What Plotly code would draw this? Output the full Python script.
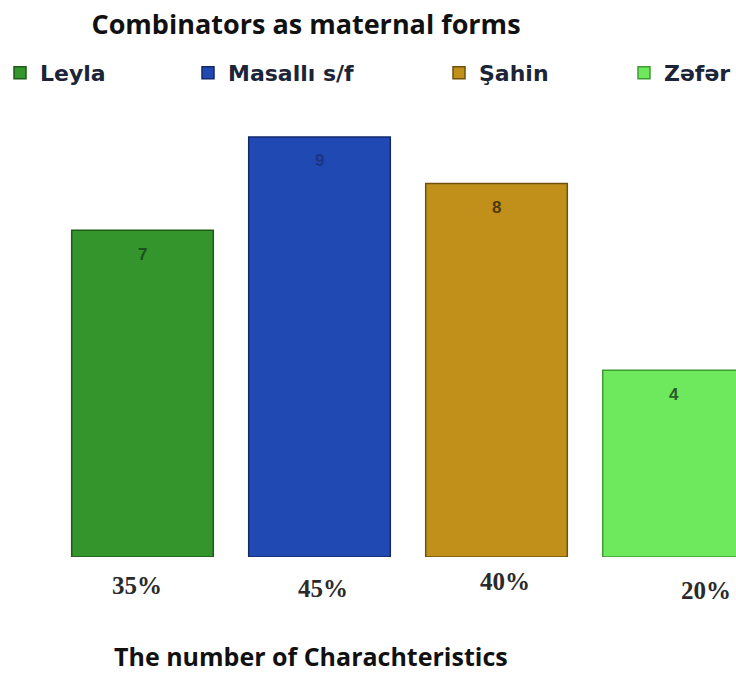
import plotly.graph_objects as go

# Data
varieties = ["Leyla", "Masallı s/f", "Şahin", "Zəfər"]
counts = [7, 9, 8, 4]
shares = ["35%", "45%", "40%", "20%"]

# Styling
fill_colors = ["#33952c", "#2149b4", "#c0901a", "#6ee85c"]
edge_colors = ["#1f5a1a", "#13286a", "#6e520c", "#3f9a35"]
value_colors = ["#1e4f1c", "#1b3580", "#4e3a0c", "#2c5a28"]
share_xshift = [-5, 3, 8, 32]
share_yshift = [-28, -31, -24, -33]
legend_x_px = [-1, 188, 439, 631]

fig = go.Figure()
for i, (name, val) in enumerate(zip(varieties, counts)):
    legend_id = "legend" if i == 0 else f"legend{i + 1}"
    fig.add_trace(go.Bar(
        x=[i], y=[val], name=name, width=0.8,
        marker=dict(color=fill_colors[i], line=dict(color=edge_colors[i], width=1.5)),
        legend=legend_id, showlegend=True, hoverinfo="skip",
    ))
    # value label inside the top of the bar
    fig.add_annotation(x=i, y=val, yref="y", xref="x", text=str(val),
                       showarrow=False, yshift=-24,
                       font=dict(family="Liberation Sans", size=17, color=value_colors[i],
                                 weight="bold"))
    # share label under the bar
    fig.add_annotation(x=i, y=0, yref="y", xref="x", text=shares[i],
                       showarrow=False, xshift=share_xshift[i], yshift=share_yshift[i],
                       font=dict(family="Liberation Serif", size=25, color="#2a2a2a",
                                 weight="bold"))

legend_layout = {}
for i in range(4):
    key = "legend" if i == 0 else f"legend{i + 1}"
    legend_layout[key] = dict(
        x=legend_x_px[i] / 736, y=1 - 73 / 673, xref="paper", yref="container",
        xanchor="left", yanchor="middle", orientation="h",
        bgcolor="rgba(0,0,0,0)",
        font=dict(family="DejaVu Sans", size=22, color="#1c2438", weight="bold"),
        itemwidth=30,
    )

fig.update_layout(
    width=736, height=673,
    margin=dict(l=0, r=0, t=100, b=116),
    paper_bgcolor="white", plot_bgcolor="white",
    title=dict(text="<b>Combinators as maternal forms</b>", x=306 / 736, xanchor="center",
               y=1 - 25 / 673, yanchor="middle",
               font=dict(family="Open Sans", size=27, color="#111111")),
    xaxis=dict(range=[-0.805, 3.353], visible=False, fixedrange=True),
    yaxis=dict(range=[0, 9.79], visible=False, fixedrange=True),
    bargap=0.2,
    **legend_layout,
)

fig.add_annotation(text="<b>The number of Charachteristics</b>", xref="paper", yref="paper",
                   x=311 / 736, y=-(656 - 557) / 457, xanchor="center", yanchor="middle",
                   showarrow=False,
                   font=dict(family="Open Sans", size=25, color="#111111"))

fig.write_html("out.html")
